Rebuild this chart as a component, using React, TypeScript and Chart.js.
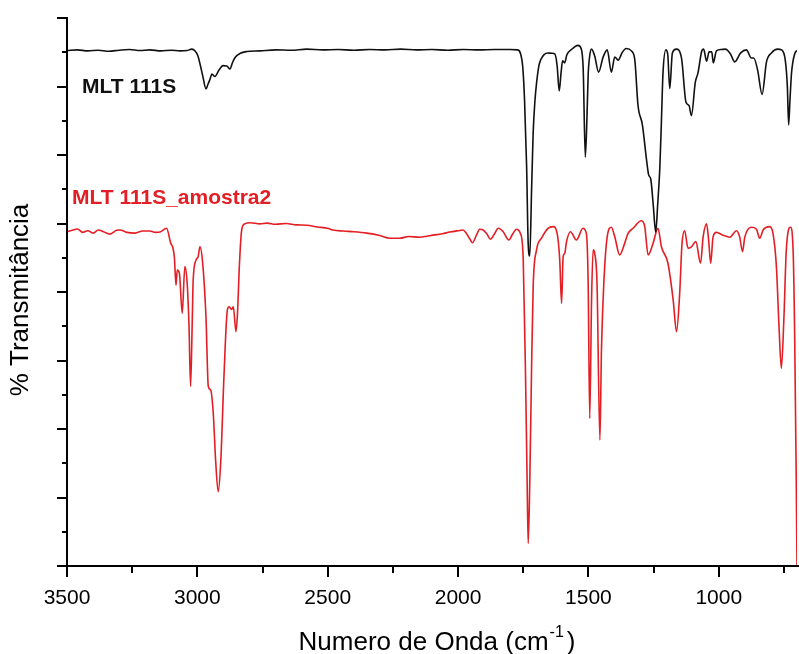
import React, { useEffect, useRef } from "react";
import { Chart, registerables } from "chart.js";

Chart.register(...registerables);

// ---- Data (wavenumber in cm^-1, transmittance in arbitrary offset units) ----
const blackWavenumber = [
  3500, 3460, 3420, 3380, 3340, 3300, 3260, 3220, 3182, 3140, 3100, 3067, 3040, 3021, 3008, 2998, 2988, 2979, 2967, 2960,
  2952, 2944, 2933, 2917, 2902, 2887, 2875, 2865, 2856, 2835, 2810, 2760, 2700, 2640, 2580, 2520, 2460, 2400, 2340, 2280,
  2220, 2160, 2100, 2040, 1980, 1920, 1860, 1800, 1771, 1760, 1752, 1745, 1737, 1731, 1725, 1718, 1712, 1705, 1699, 1690,
  1683, 1670, 1656, 1640, 1629, 1620, 1612, 1605, 1599, 1591, 1583, 1565, 1540, 1527, 1520, 1512, 1506, 1501, 1495, 1488,
  1476, 1461, 1444, 1428, 1412, 1399, 1386, 1370, 1355, 1335, 1322, 1310, 1293, 1277, 1269, 1261, 1252, 1242, 1234, 1226,
  1220, 1214, 1203, 1196, 1188, 1178, 1163, 1143, 1126, 1114, 1105, 1090, 1080, 1065, 1058, 1047, 1037, 1027, 1021, 1009,
  990, 975, 955, 939, 916, 894, 875, 866, 851, 834, 817, 798, 774, 759, 745, 737, 732, 727, 721, 709, 700,
];
const blackTransmittance = [
  15.05, 15.07, 15.04, 15.06, 15.03, 15.06, 15.08, 15.05, 15.07, 15.04, 15.06, 15.04, 15.05, 15.09, 15.03, 14.9, 14.6, 14.3, 13.93, 14.05,
  14.2, 14.36, 14.29, 14.48, 14.61, 14.6, 14.51, 14.7, 14.84, 14.97, 15.02, 15.04, 15.07, 15.06, 15.09, 15.07, 15.08, 15.06, 15.08, 15.07,
  15.09, 15.07, 15.08, 15.06, 15.08, 15.07, 15.08, 15.08, 15.07, 14.95, 14.58, 13.6, 11.65, 9.4, 9.05, 11.0, 12.64, 13.6, 14.1, 14.6,
  14.78, 14.93, 14.98, 14.97, 14.95, 14.6, 13.87, 14.4, 14.75, 14.69, 14.92, 15.08, 15.2, 15.09, 14.5, 11.94, 13.0, 14.34, 14.9, 15.09,
  14.89, 14.42, 14.85, 15.07, 14.42, 14.86, 14.77, 15.0, 15.11, 15.04, 14.77, 13.46, 12.88, 11.85, 11.42, 11.3, 10.6, 9.75, 10.6, 11.65,
  13.0, 14.39, 15.07, 14.95, 13.94, 14.98, 15.09, 14.83, 13.55, 13.44, 13.15, 14.13, 14.39, 15.04, 15.09, 14.74, 15.01, 15.01, 14.69, 15.04,
  15.08, 15.09, 14.95, 14.72, 14.98, 15.07, 14.83, 14.83, 14.48, 13.77, 14.72, 14.98, 15.09, 15.07, 14.77, 14.0, 12.88, 13.6, 14.39, 14.95, 15.05,
];

const redWavenumber = [
  3500, 3480, 3460, 3440, 3420, 3400, 3380, 3360, 3335, 3310, 3297, 3270, 3239, 3210, 3182, 3160, 3143, 3118, 3102, 3095,
  3088, 3082, 3077, 3069, 3058, 3048, 3039, 3032, 3026, 3020, 3016, 3005, 2997, 2990, 2980, 2967, 2958, 2949, 2939, 2930,
  2920, 2910, 2898, 2885, 2878, 2869, 2862, 2852, 2846, 2839, 2830, 2818, 2798, 2760, 2733, 2700, 2660, 2620, 2580, 2540,
  2500, 2480, 2440, 2400, 2350, 2300, 2262, 2223, 2190, 2147, 2120, 2097, 2060, 2032, 2000, 1981, 1968, 1955, 1945, 1930,
  1917, 1904, 1890, 1876, 1860, 1846, 1827, 1805, 1790, 1776, 1761, 1750, 1741, 1735, 1731, 1725, 1718, 1712, 1699, 1680,
  1655, 1635, 1620, 1610, 1603, 1597, 1591, 1584, 1569, 1546, 1521, 1508, 1501, 1495, 1488, 1482, 1476, 1467, 1456, 1450,
  1441, 1428, 1412, 1399, 1380, 1361, 1348, 1329, 1297, 1284, 1271, 1252, 1233, 1220, 1195, 1175, 1162, 1150, 1141, 1131,
  1118, 1105, 1088, 1070, 1060, 1047, 1039, 1031, 1022, 1009, 984, 958, 932, 920, 909, 900, 875, 856, 843, 830,
  805, 792, 779, 769, 760, 750, 741, 725, 715, 709, 703, 700,
];
const redTransmittance = [
  9.76, 9.8, 9.84, 9.74, 9.79, 9.72, 9.81, 9.76, 9.69, 9.8, 9.81, 9.74, 9.72, 9.78, 9.78, 9.74, 9.75, 9.86, 9.42, 9.32,
  9.0, 8.2, 8.64, 8.55, 7.38, 8.74, 8.25, 7.0, 5.24, 7.0, 8.35, 8.93, 9.03, 9.32, 8.88, 7.28, 5.24, 5.14, 4.46, 3.09,
  2.17, 3.09, 5.53, 7.47, 7.57, 7.49, 7.57, 6.84, 7.38, 8.74, 9.81, 9.99, 10.02, 9.99, 10.01, 9.98, 10.0, 9.96, 9.95, 9.9,
  9.86, 9.81, 9.78, 9.76, 9.72, 9.65, 9.57, 9.57, 9.62, 9.6, 9.63, 9.66, 9.7, 9.75, 9.79, 9.81, 9.71, 9.55, 9.44, 9.65,
  9.83, 9.81, 9.7, 9.54, 9.7, 9.86, 9.76, 9.52, 9.7, 9.83, 9.71, 8.93, 5.43, 2.41, 0.66, 2.42, 5.82, 8.15, 9.23, 9.57,
  9.86, 9.91, 9.71, 8.93, 7.67, 9.03, 9.13, 9.47, 9.76, 9.52, 9.86, 9.71, 8.25, 4.31, 7.77, 9.23, 9.13, 8.25, 3.68, 6.31,
  8.25, 9.61, 9.89, 9.61, 9.08, 9.42, 9.71, 9.86, 10.08, 9.91, 9.08, 9.42, 9.86, 9.32, 8.84, 7.77, 6.84, 7.96, 9.42, 9.79,
  9.28, 9.32, 9.47, 8.84, 9.61, 9.99, 9.52, 8.84, 9.61, 9.74, 9.66, 9.6, 9.79, 9.61, 9.18, 9.61, 9.89, 9.84, 9.57, 9.81,
  9.91, 9.71, 8.74, 6.99, 5.77, 7.28, 9.23, 9.89, 9.23, 6.79, 2.6, 0.0,
];

const xTickValues = [750, 1000, 1250, 1500, 1750, 2000, 2250, 2500, 2750, 3000, 3250, 3500];
const xMajorStep = 500;
const yTickValues = [0, 1, 2, 3, 4, 5, 6, 7, 8, 9, 10, 11, 12, 13, 14, 15, 16];

const seriesNames = ["MLT 111S", "MLT 111S_amostra2"];
const xTitleMain = "Numero de Onda (cm";
const xTitleSup = "-1";
const xTitleEnd = ")";
const yTitle = "% Transmitância";

const BLACK = "#111111";
const RED = "#e31e24";
const FONT = "'Liberation Sans', Arial, sans-serif";

export default function App() {
  const ref = useRef<HTMLCanvasElement>(null);

  useEffect(() => {
    document.body.style.margin = "0";
    const canvas = ref.current;
    if (!canvas) return;

    const decor = {
      id: "decor",
      afterDraw(chart: any) {
        const { ctx, chartArea: a, scales } = chart;
        const xs = scales.x;
        const ys = scales.y;
        ctx.save();
        ctx.strokeStyle = "#000";
        ctx.lineWidth = 2;
        ctx.beginPath();
        ctx.moveTo(a.left, a.top - 1);
        ctx.lineTo(a.left, a.bottom);
        ctx.lineTo(a.right + 2, a.bottom);
        ctx.stroke();
        // y ticks (outward)
        for (const v of yTickValues) {
          const py = Math.round(ys.getPixelForValue(v));
          const len = v % 2 === 0 ? 10 : 5;
          ctx.beginPath();
          ctx.moveTo(a.left - len, py);
          ctx.lineTo(a.left, py);
          ctx.stroke();
        }
        // x ticks (outward)
        for (const v of xTickValues) {
          const px = Math.round(xs.getPixelForValue(v));
          const len = v % xMajorStep === 0 ? 11 : 7;
          ctx.beginPath();
          ctx.moveTo(px, a.bottom);
          ctx.lineTo(px, a.bottom + len);
          ctx.stroke();
        }
        // series labels
        ctx.textBaseline = "alphabetic";
        ctx.textAlign = "left";
        ctx.font = `bold 21px ${FONT}`;
        ctx.fillStyle = BLACK;
        ctx.fillText(seriesNames[0], a.left + 15, 93);
        ctx.fillStyle = RED;
        ctx.fillText(seriesNames[1], a.left + 5, 204);
        // x title with superscript
        ctx.fillStyle = "#000";
        ctx.font = `26px ${FONT}`;
        const w1 = ctx.measureText(xTitleMain).width;
        ctx.font = `16px ${FONT}`;
        const w2 = ctx.measureText(xTitleSup).width;
        ctx.font = `26px ${FONT}`;
        const w3 = ctx.measureText(xTitleEnd).width;
        const total = w1 + w2 + 4 + w3;
        const cx = (a.left + a.right) / 2 + 5;
        let sx = cx - total / 2;
        const base = 650;
        ctx.fillText(xTitleMain, sx, base);
        sx += w1 + 1;
        ctx.font = `16px ${FONT}`;
        ctx.fillText(xTitleSup, sx, base - 13);
        sx += w2 + 3;
        ctx.font = `26px ${FONT}`;
        ctx.fillText(xTitleEnd, sx, base);
        // y title
        ctx.save();
        ctx.translate(21, (a.top + a.bottom) / 2 + 8);
        ctx.rotate(-Math.PI / 2);
        ctx.textAlign = "center";
        ctx.textBaseline = "middle";
        ctx.fillText(yTitle, 0, 0);
        ctx.restore();
        ctx.restore();
      },
    };

    const chart = new Chart(canvas, {
      type: "line",
      data: {
        datasets: [
          {
            label: seriesNames[0],
            data: blackWavenumber.map((x, i) => ({ x, y: blackTransmittance[i] })),
            borderColor: BLACK,
            borderWidth: 1.6,
            pointRadius: 0,
            cubicInterpolationMode: "monotone",
            fill: false,
          },
          {
            label: seriesNames[1],
            data: redWavenumber.map((x, i) => ({ x, y: redTransmittance[i] })),
            borderColor: RED,
            borderWidth: 1.6,
            pointRadius: 0,
            cubicInterpolationMode: "monotone",
            fill: false,
          },
        ],
      },
      options: {
        responsive: false,
        animation: false,
        events: [],
        layout: { padding: { top: 18, right: 2, left: 0, bottom: 0 } },
        plugins: {
          legend: { display: false },
          tooltip: { enabled: false },
          title: { display: false },
        },
        scales: {
          x: {
            type: "linear",
            reverse: true,
            min: 700,
            max: 3500,
            grid: { display: false },
            border: { display: false },
            afterBuildTicks: (s: any) => {
              s.ticks = xTickValues.map((v) => ({ value: v }));
            },
            afterFit: (s: any) => {
              s.height = 88;
            },
            ticks: {
              autoSkip: false,
              maxRotation: 0,
              padding: 12,
              color: "#000",
              font: { family: FONT, size: 21 },
              callback: (v: any) => (Number(v) % xMajorStep === 0 ? String(v) : ""),
            },
          },
          y: {
            type: "linear",
            min: 0,
            max: 16,
            grid: { display: false },
            border: { display: false },
            ticks: { display: false },
            afterFit: (s: any) => {
              s.width = 67;
            },
          },
        },
      },
      plugins: [decor],
    });

    return () => chart.destroy();
  }, []);

  return (
    <div style={{ width: 799, height: 654 }}>
      <canvas ref={ref} width={799} height={654} style={{ display: "block" }} />
    </div>
  );
}
